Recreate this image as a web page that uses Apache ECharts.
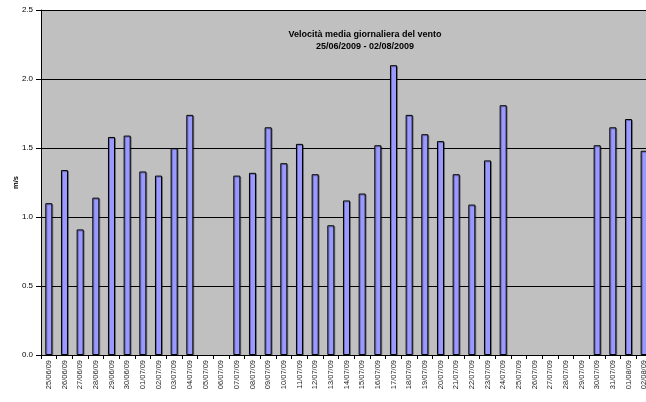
<!DOCTYPE html>
<html>
<head>
<meta charset="utf-8">
<script src="https://cdn.jsdelivr.net/npm/echarts@6/dist/echarts.min.js"></script>
<style>
  html, body { margin: 0; padding: 0; background: #fff; overflow: hidden; }
  #chart { width: 646px; height: 402px; }
</style>
</head>
<body>
<div id="chart"></div>
<script>
// giorni 25/06/09 - 02/08/09
var giorni = ['25/06/09','26/06/09','27/06/09','28/06/09','29/06/09','30/06/09',
  '01/07/09','02/07/09','03/07/09','04/07/09','05/07/09','06/07/09','07/07/09',
  '08/07/09','09/07/09','10/07/09','11/07/09','12/07/09','13/07/09','14/07/09',
  '15/07/09','16/07/09','17/07/09','18/07/09','19/07/09','20/07/09','21/07/09',
  '22/07/09','23/07/09','24/07/09','25/07/09','26/07/09','27/07/09','28/07/09',
  '29/07/09','30/07/09','31/07/09','01/08/09','02/08/09'];
// velocità media (m/s), null = dato mancante
var velocita = [1.10, 1.34, 0.91, 1.14, 1.58, 1.59,
  1.33, 1.30, 1.50, 1.74, null, null, 1.30,
  1.32, 1.65, 1.39, 1.53, 1.31, 0.94, 1.12,
  1.17, 1.52, 2.10, 1.74, 1.60, 1.55, 1.31,
  1.09, 1.41, 1.81, null, null, null, null,
  null, 1.52, 1.65, 1.71, 1.48];
var yTicks = [0, 0.5, 1.0, 1.5, 2.0, 2.5];

var chart = echarts.init(document.getElementById('chart'));
var option = {
  animation: false,
  textStyle: { fontFamily: 'Liberation Sans, Arial, sans-serif' },
  title: {
    text: 'Velocità media giornaliera del vento\n25/06/2009 - 02/08/2009',
    left: 360,
    top: 24,
    textAlign: 'center',
    textStyle: { fontSize: 9, fontWeight: 'bold', color: '#000', lineHeight: 12 }
  },
  // l'area del grafico sborda a destra come nell'originale
  grid: {
    left: 41, width: 611, top: 10, height: 345,
    containLabel: false, outerBoundsMode: 'none',
    backgroundColor: '#c0c0c0', show: true, borderWidth: 0
  },
  xAxis: {
    type: 'category',
    data: giorni,
    axisLine: { lineStyle: { color: '#000', width: 1 } },
    axisTick: { show: true, length: 4, lineStyle: { color: '#000' } },
    axisLabel: { rotate: 90, fontSize: 7.5, color: '#222', margin: 5, interval: 0 }
  },
  yAxis: {
    type: 'value',
    min: yTicks[0],
    max: yTicks[yTicks.length - 1],
    interval: 0.5,
    name: 'm/s',
    nameLocation: 'middle',
    nameRotate: 90,
    nameGap: 21,
    nameMoveOverlap: false,
    nameTextStyle: { fontSize: 7.5, fontWeight: 'bold', color: '#000' },
    axisLine: { show: true, lineStyle: { color: '#000', width: 1 } },
    axisTick: { show: true, length: 5, lineStyle: { color: '#000' } },
    axisLabel: { fontSize: 8, color: '#000', margin: 8, formatter: function (v) { return v.toFixed(1); } },
    splitLine: { show: true, lineStyle: { color: '#000', width: 1 } }
  },
  series: [{
    type: 'bar',
    data: velocita,
    barWidth: '45%',
    itemStyle: {
      color: '#9999ff',
      borderColor: '#000',
      borderWidth: 1,
      shadowColor: 'rgba(0,0,0,0.3)',
      shadowOffsetX: 1,
      shadowOffsetY: 1,
      shadowBlur: 0
    }
  }]
};
chart.setOption(option);
</script>
</body>
</html>
